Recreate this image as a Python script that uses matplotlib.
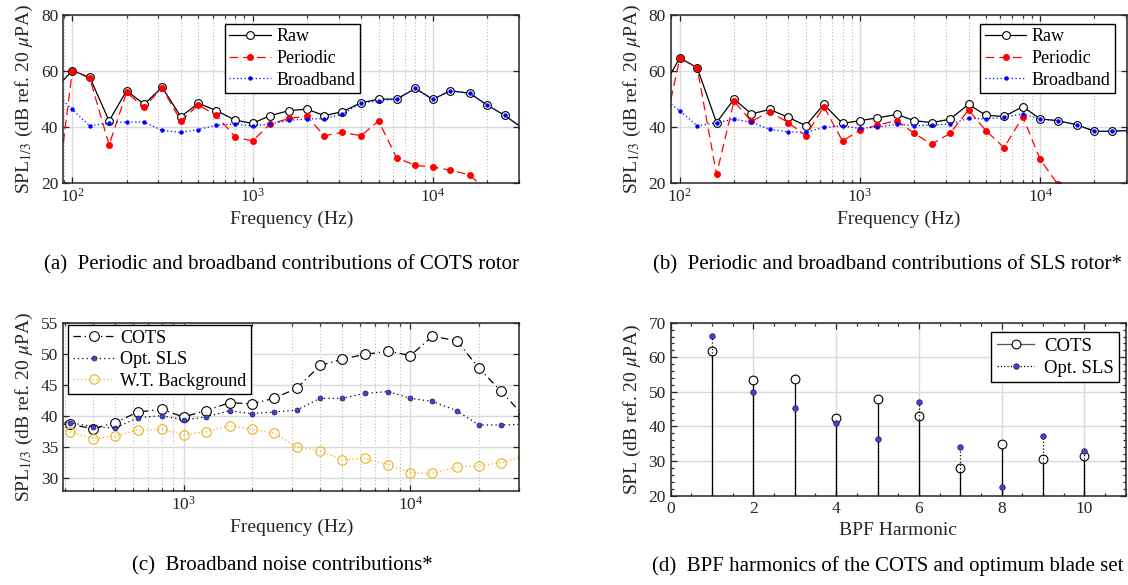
import numpy as np
import matplotlib
matplotlib.use('Agg')
import matplotlib.pyplot as plt
from matplotlib.lines import Line2D
from matplotlib.legend_handler import HandlerLine2D
from matplotlib.ticker import NullFormatter, MultipleLocator

## DATA ##
# third-octave band centres (80 Hz and 31.5 kHz only feed the clipped line ends)
freq_a = [80, 100, 125, 160, 200, 250, 315, 400, 500, 630, 800, 1000, 1250, 1600, 2000,
          2500, 3150, 4000, 5000, 6300, 8000, 10000, 12500, 16000, 20000, 25000, 31500]

raw_a = [53.4, 60.1, 57.7, 42.1, 52.9, 48.1, 54.1, 43.6, 48.4, 45.8, 42.4, 41.2, 44.0, 45.8, 46.3,
         44.0, 45.4, 48.6, 49.9, 49.9, 53.7, 49.8, 52.9, 52.0, 47.8, 44.1, 39.5]
per_a = [10.0, 60.0, 57.4, 33.5, 52.3, 47.0, 53.9, 42.1, 47.8, 44.1, 36.4, 34.9, 41.0, 43.0, 43.8,
         36.8, 38.0, 36.8, 42.1, 28.9, 26.2, 25.6, 24.5, 22.8, 17.0, 14.0, 12.0]
bb_a = [52.1, 46.2, 40.3, 41.5, 41.7, 41.7, 38.7, 38.0, 39.0, 40.6, 41.0, 40.3, 41.0, 42.3, 42.8,
        42.9, 44.6, 48.4, 49.3, 49.9, 53.7, 49.8, 52.9, 52.0, 47.8, 44.1, 39.5]

raw_b = [53.4, 64.7, 61.1, 41.5, 49.9, 44.6, 46.2, 43.4, 40.4, 48.0, 41.2, 42.2, 43.2, 44.4, 42.2,
         41.5, 42.7, 48.0, 44.1, 43.7, 47.2, 42.8, 42.2, 40.7, 38.4, 38.4, 38.7]
per_b = [35.4, 64.5, 61.1, 23.0, 49.2, 41.9, 45.4, 41.5, 36.8, 47.2, 34.9, 38.8, 40.6, 42.2, 37.6,
         33.8, 37.6, 46.0, 38.6, 32.5, 43.6, 28.3, 19.5, 15.0, 12.0, 10.0, 8.0]
bb_b = [50.4, 45.8, 40.3, 41.5, 42.7, 41.6, 39.1, 38.2, 38.0, 39.8, 40.3, 39.4, 39.9, 40.9, 40.4,
        40.6, 41.0, 43.0, 42.8, 43.4, 44.6, 42.8, 42.2, 40.7, 38.4, 38.4, 38.7]

freq_c = [250, 315, 400, 500, 630, 800, 1000, 1250, 1600, 2000, 2500, 3150, 4000, 5000,
          6300, 8000, 10000, 12500, 16000, 20000, 25000, 31500]
cots_c = [38.7, 38.6, 37.9, 38.9, 40.6, 41.0, 39.8, 40.8, 42.1, 41.9, 42.8, 44.4, 48.1, 49.1,
          49.9, 50.4, 49.7, 52.8, 52.1, 47.7, 44.0, 40.0]
sls_c = [38.9, 38.9, 38.2, 38.0, 39.7, 40.0, 39.3, 39.8, 40.8, 40.3, 40.6, 40.9, 42.8, 42.8,
         43.6, 43.9, 42.8, 42.3, 40.8, 38.5, 38.5, 38.6]
wt_c = [40.5, 37.4, 36.3, 36.7, 37.7, 37.8, 36.9, 37.4, 38.4, 37.8, 37.2, 35.0, 34.3, 32.9,
        33.1, 32.1, 30.8, 30.7, 31.7, 31.9, 32.4, 33.4]

harm = [1, 2, 3, 4, 5, 6, 7, 8, 9, 10]
cots_d = [61.8, 53.4, 53.8, 42.4, 47.9, 43.1, 28.1, 34.9, 30.7, 31.4]
sls_d = [66.1, 50.0, 45.3, 41.0, 36.5, 47.1, 34.1, 22.6, 37.2, 32.9]

captions = ['(a)  Periodic and broadband contributions of COTS rotor',
            '(b)  Periodic and broadband contributions of SLS rotor*',
            '(c)  Broadband noise contributions*',
            '(d)  BPF harmonics of the COTS and optimum blade set']

## STYLE ##
plt.rcParams['font.family'] = ['Liberation Serif', 'DejaVu Serif']
plt.rcParams['mathtext.fontset'] = 'stix'
ink = '#262626'
spl13 = r'SPL$_{1/3}$ (dB ref. 20 $\mu$PA)'
blue2 = '#4343d6'
orange = '#EDB120'


def style_axes(ax, logx=True):
    ax.set_axisbelow(True)
    for s in ax.spines.values():
        s.set_color(ink)
        s.set_linewidth(1.1)
    ax.tick_params(which='both', direction='in', top=True, right=True, colors=ink,
                   labelsize=12.5, width=0.9)
    ax.tick_params(which='major', length=4.5)
    ax.tick_params(which='minor', length=2.5)
    ax.grid(True, which='major', color='#dadada', lw=1.0)
    if logx:
        ax.grid(True, which='minor', axis='x', color='#b8b8b8', ls=(0, (1, 2)), lw=0.8)
        ax.xaxis.set_minor_formatter(NullFormatter())


def legend_box(ax, anchor, **kw):
    leg = ax.legend(loc='upper left', bbox_to_anchor=anchor, bbox_transform=fig.transFigure,
                    borderaxespad=0, fancybox=False, framealpha=1, edgecolor='k',
                    fontsize=13, numpoints=1, borderpad=0.25, labelspacing=0.25,
                    handletextpad=0.3, **kw)
    leg.get_frame().set_linewidth(1.0)
    return leg


class EndMarker(HandlerLine2D):
    # MATLAB style: marker sits at the right end of the legend line
    def get_xdata(self, legend, xdescent, ydescent, width, height, fontsize):
        xdata, _ = super().get_xdata(legend, xdescent, ydescent, width, height, fontsize)
        return xdata, np.array([xdata[-1]])


fig = plt.figure(figsize=(11.28, 5.85), dpi=100)

## (a) and (b) ##
rects = [[0.0561, 0.6877, 0.4043, 0.2867], [0.5946, 0.6877, 0.4043, 0.2867]]
series = [(raw_a, per_a, bb_a), (raw_b, per_b, bb_b)]
anchors = [(0.1993, 0.959), (0.8692, 0.959)]
for rect, (raw, per, bb), anc in zip(rects, series, anchors):
    ax = fig.add_axes(rect)
    ax.set_xscale('log')
    ax.plot(freq_a, raw, color='k', lw=0.9, marker='o', ms=5.6, mfc='white', mec='k',
            mew=0.8, label='Raw')
    ax.plot(freq_a, per, color='#ff0000', lw=0.9, ls=(0, (7, 4)), marker='o', ms=4.0,
            mfc='#ff0000', mec='#ff0000', label='Periodic')
    ax.plot(freq_a, bb, color='#0000ff', lw=0.9, ls=(0, (1, 2)), marker='o', ms=2.2,
            mfc='#0000ff', mec='#0000ff', label='Broadband')
    ax.set_xlim(89.1, 30200)
    ax.set_ylim(20, 80)
    ax.set_yticks([20, 40, 60, 80])
    ax.set_xlabel('Frequency (Hz)', fontsize=14, color=ink)
    ax.set_ylabel(spl13, fontsize=14, color=ink)
    style_axes(ax)
    legend_box(ax, anc, handlelength=2.3)

## (c) ##
ax = fig.add_axes([0.0561, 0.1612, 0.4043, 0.2872])
ax.set_xscale('log')
ax.plot(freq_c, cots_c, color='k', lw=0.9, ls=(0, (6, 3, 1, 3)), marker='o', ms=7,
        mfc='white', mec='k', mew=0.8, label='COTS')
ax.plot(freq_c, sls_c, color='k', lw=0.9, ls=(0, (1, 2.5)), marker='o', ms=3.6,
        mfc=blue2, mec='#1a1a50', mew=0.5, label='Opt. SLS')
ax.plot(freq_c, wt_c, color=orange, lw=0.9, ls=(0, (1, 2)), marker='o', ms=6.8,
        mfc='none', mec=orange, mew=0.8, label='W.T. Background')
ax.set_xlim(295, 30200)
ax.set_ylim(27.9, 55)
ax.set_yticks([30, 35, 40, 45, 50, 55])
ax.set_xlabel('Frequency (Hz)', fontsize=14, color=ink)
ax.set_ylabel(spl13, fontsize=14, color=ink)
style_axes(ax)
legend_box(ax, (0.0606, 0.4444), handlelength=2.3)

## (d) ##
ax = fig.add_axes([0.5946, 0.1527, 0.4034, 0.2957])
m1, s1, b1 = ax.stem(harm, cots_d, linefmt='k-', markerfmt='o', basefmt=' ', bottom=0)
s1.set_linewidth(0.9)
m1.set_markerfacecolor('white')
m1.set_markeredgecolor('k')
m1.set_markersize(6.3)
m1.set_markeredgewidth(0.8)
m2, s2, b2 = ax.stem(harm, sls_d, linefmt='k:', markerfmt='o', basefmt=' ', bottom=0)
s2.set_linewidth(0.9)
m2.set_markerfacecolor(blue2)
m2.set_markeredgecolor('#1a1a50')
m2.set_markersize(4.0)
m2.set_markeredgewidth(0.5)
ax.set_xlim(0, 11)
ax.set_ylim(20, 70)
ax.set_xticks([0, 2, 4, 6, 8, 10])
ax.set_yticks([20, 30, 40, 50, 60, 70])
ax.xaxis.set_minor_locator(MultipleLocator(0.5))
ax.yaxis.set_minor_locator(MultipleLocator(2))
ax.set_xlabel('BPF Harmonic', fontsize=14, color=ink)
ax.set_ylabel(r'SPL (dB ref. 20 $\mu$PA)', fontsize=14, color=ink)
style_axes(ax, logx=False)
h1 = Line2D([], [], color='#555555', lw=0.9, marker='o', ms=6.3, mfc='white', mec='k', mew=0.8)
h2 = Line2D([], [], color='k', lw=0.9, ls=':', marker='o', ms=4.0, mfc=blue2, mec='#1a1a50', mew=0.5)
leg = ax.legend([h1, h2], ['COTS', 'Opt. SLS'], loc='upper left', bbox_to_anchor=(0.8788, 0.432),
                bbox_transform=fig.transFigure, borderaxespad=0, fancybox=False, framealpha=1,
                edgecolor='k', fontsize=13.5, numpoints=1, borderpad=0.3, labelspacing=0.25,
                handletextpad=0.5, handlelength=2.0, handler_map={Line2D: EndMarker()})
leg.get_frame().set_linewidth(1.0)

## CAPTIONS ##
for (x, y), txt in zip([(0.25, 0.548), (0.787, 0.548), (0.25, 0.032), (0.787, 0.032)], captions):
    fig.text(x, y, txt, ha='center', va='center', fontsize=15, color='k')

fig.savefig('out.png', dpi=100)
